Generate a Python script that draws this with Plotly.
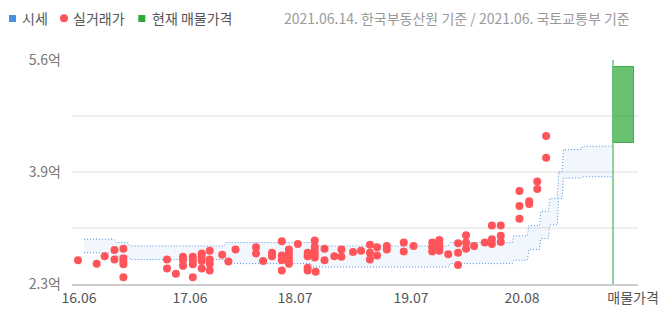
import plotly.graph_objects as go

# ---------------- data ----------------
# x unit: months since 2016.06 ; y unit: 억
deal_month = [0.0, 2.1, 3.0, 4.1, 4.1, 5.1, 5.1, 5.1, 5.1, 5.1,
              10.0, 10.0, 11.0, 11.8, 11.8, 11.8, 12.9, 12.9, 12.9, 12.9,
              13.9, 13.9, 13.9, 13.9, 14.8, 14.8, 14.8, 14.8, 16.2, 16.9,
              17.7, 20.0, 20.0, 20.8, 21.8, 21.8, 22.9, 22.9, 22.9, 22.9,
              23.7, 23.7, 23.7, 23.7, 23.7, 24.7, 25.8, 25.8, 25.8, 25.8,
              26.6, 26.6, 26.6, 26.6, 26.6, 26.7, 27.7, 27.7, 28.8, 29.6,
              29.6, 30.9, 31.8, 32.8, 32.8, 32.8, 33.6, 33.6, 34.7, 34.7,
              36.6, 36.6, 37.7, 39.8, 39.8, 39.8, 40.6, 40.6, 40.6, 40.6,
              41.6, 42.7, 42.7, 42.7, 43.6, 43.6, 43.6, 44.5, 45.7, 46.5,
              46.5, 46.5, 47.5, 47.5, 47.5, 49.6, 49.6, 49.6, 50.7, 50.7,
              51.6, 51.6, 52.6, 52.6]
deal_price = [2.65, 2.60, 2.71, 2.80, 2.66, 2.82, 2.68, 2.63, 2.59, 2.40,
              2.66, 2.53, 2.45, 2.70, 2.65, 2.57, 2.70, 2.65, 2.59, 2.40,
              2.75, 2.70, 2.64, 2.53, 2.79, 2.66, 2.60, 2.50, 2.73, 2.63,
              2.81, 2.84, 2.75, 2.64, 2.76, 2.71, 2.93, 2.72, 2.65, 2.50,
              2.81, 2.75, 2.69, 2.63, 2.60, 2.89, 2.76, 2.71, 2.54, 2.50,
              2.94, 2.85, 2.79, 2.74, 2.69, 2.48, 2.82, 2.65, 2.71, 2.81,
              2.70, 2.77, 2.79, 2.88, 2.76, 2.66, 2.84, 2.72, 2.86, 2.81,
              2.91, 2.78, 2.86, 2.91, 2.84, 2.78, 2.95, 2.89, 2.83, 2.79,
              2.74, 2.90, 2.76, 2.58, 3.02, 2.91, 2.82, 2.86, 2.91, 3.16,
              2.96, 2.89, 3.16, 3.01, 2.92, 3.67, 3.45, 3.26, 3.52, 3.48,
              3.81, 3.70, 4.48, 4.16]

# 시세 band (upper / lower)
band_month = [0.67, 4.0, 4.3, 5.6, 5.9, 16.4, 16.6, 26.2, 26.4, 41.6,
              41.8, 48.8, 48.95, 50.5, 50.65, 51.85, 52.0, 52.85, 53.0, 53.85,
              54.0, 54.4, 54.55, 56.55, 56.7, 59.95]
band_high = [2.96, 2.96, 2.91, 2.91, 2.86, 2.86, 2.91, 2.91, 2.86, 2.86,
             2.91, 2.91, 3.01, 3.01, 3.16, 3.16, 3.37, 3.37, 3.56, 3.56,
             3.95, 3.95, 4.28, 4.28, 4.33, 4.33]
band_low = [2.76, 2.76, 2.71, 2.71, 2.66, 2.66, 2.60, 2.60, 2.55, 2.55,
            2.60, 2.60, 2.65, 2.65, 2.81, 2.81, 2.97, 2.97, 3.17, 3.17,
            3.56, 3.56, 3.86, 3.86, 3.88, 3.88]

# 현재 매물가격 range
listing_low = 4.38
listing_high = 5.50

x_tick_text = ["16.06", "17.06", "18.07", "19.07", "20.08", "매물가격"]
x_tick_pos = [0.11, 12.58, 24.38, 37.42, 49.89, 62.36]
y_tick_vals = [2.3, 3.125, 3.95, 4.775, 5.6]
y_tick_text = ["2.3억", "", "3.9억", "", "5.6억"]

FONT = "Noto Sans CJK KR"
BLUE = "#4a90e2"
RED = "#ff5459"
GREEN = "#2eaa3c"

fig = go.Figure()

fig.add_trace(go.Scatter(
    x=band_month, y=band_low, mode="lines",
    line=dict(color=BLUE, width=1, dash="1px,2px"),
    hoverinfo="skip", showlegend=False))
fig.add_trace(go.Scatter(
    x=band_month, y=band_high, mode="lines",
    line=dict(color=BLUE, width=1, dash="1px,2px"),
    fill="tonexty", fillcolor="rgba(74,144,226,0.07)",
    name="시세", showlegend=False))

fig.add_trace(go.Bar(
    x=[61.29], y=[listing_high - listing_low], base=[listing_low], width=[2.36],
    marker=dict(color="rgba(46,170,60,0.72)",
                line=dict(color="rgba(46,160,60,0.85)", width=1)),
    name="현재 매물가격", showlegend=False))

fig.add_trace(go.Scatter(
    x=deal_month, y=deal_price, mode="markers",
    marker=dict(color=RED, size=8, line=dict(width=0)),
    name="실거래가", showlegend=False))

# separator line before 매물가격
fig.add_shape(type="line", xref="x", yref="paper", x0=60.11, x1=60.11, y0=0, y1=1,
              line=dict(color="#6fc27c", width=1.5))

# legend (drawn manually)
def px_x(px):
    return (px - 72) / 566.0

def px_y(py):
    return (284 - py) / 224.0

fig.add_shape(type="rect", xref="paper", yref="paper",
              x0=px_x(9), x1=px_x(16), y0=px_y(22), y1=px_y(15),
              fillcolor=BLUE, line=dict(width=0))
fig.add_shape(type="circle", xref="paper", yref="paper",
              x0=px_x(60), x1=px_x(68), y0=px_y(22.3), y1=px_y(14.3),
              fillcolor=RED, line=dict(width=0))
fig.add_shape(type="rect", xref="paper", yref="paper",
              x0=px_x(138.3), x1=px_x(145.3), y0=px_y(22), y1=px_y(15),
              fillcolor=GREEN, line=dict(width=0))

legend_font = dict(family=FONT, size=14, color="#555555")
for txt, px in [("시세", 19.7), ("실거래가", 70.7), ("현재 매물가격", 149.7)]:
    fig.add_annotation(text=txt, xref="paper", yref="paper", x=px_x(px), y=px_y(18.5),
                       xanchor="left", yanchor="middle", showarrow=False,
                       font=legend_font)
fig.add_annotation(text="2021.06.14. 한국부동산원 기준 / 2021.06. 국토교통부 기준",
                   xref="paper", yref="paper", x=px_x(282), y=px_y(18.5),
                   xanchor="left", yanchor="middle", showarrow=False,
                   font=dict(family=FONT, size=14, color="#9a9a9a"))

fig.update_layout(
    width=665, height=318,
    margin=dict(l=72, r=27, t=60, b=34, autoexpand=False),
    paper_bgcolor="white", plot_bgcolor="white",
    font=dict(family=FONT, size=14, color="#555555"),
    showlegend=False,
    bargap=0,
)
fig.update_xaxes(
    range=[-0.674, 62.92], tickvals=x_tick_pos, ticktext=x_tick_text,
    showgrid=False, zeroline=False, showline=True, linecolor="#cccccc", linewidth=2,
    ticks="", automargin=False, tickfont=dict(family=FONT, size=14, color="#555555"),
)
fig.update_yaxes(
    range=[2.3, 5.6], tickvals=y_tick_vals, ticktext=y_tick_text,
    showgrid=True, gridcolor="#eeeeee", gridwidth=2, zeroline=False, showline=False,
    ticks="", automargin=False, ticklabelstandoff=10,
    tickfont=dict(family=FONT, size=14, color="#777777"),
)

fig.write_html("out.html")
